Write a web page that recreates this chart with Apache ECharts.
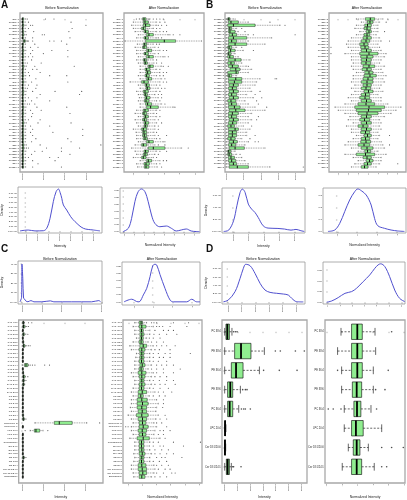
<!DOCTYPE html>
<html><head><meta charset="utf-8">
<script src="https://cdn.jsdelivr.net/npm/echarts@6/dist/echarts.min.js"></script>
<style>html,body{margin:0;padding:0;background:#fff}#c{width:407px;height:500px}</style>
</head><body><div id="c"></div>
<script>
// ---------------- categories ----------------
const catsA = ["S01-1","CMS01-1","S02-1","CMS02-1","S03-1","CMS03-1","S04-1","CMS04-1","S05-1","CMS05-1","S06-1","CMS06-1","S07-1","CMS07-1","S08-1","CMS08-1","S09-1","CMS09-1","S10-1","CMS10-1","S11-1","CMS11-1","S12-1","CMS12-1","S13-1","CMS13-1","S14-1","CMS14-1","S15-1","CMS15-1","S16-1","CMS16-1","S17-1","CMS17-1","S18-1","CMS18-1","S19-1","CMS19-1","S20-1","CMS20-1","S21-1","CMS21-1","S22-1","CMS22-1","S23-1","CMS23-1","S24-1","CMS24-1"];
const catsB = ["CMS27-2","S27-2","CMS28-2","S28-2","CMS29-2","S29-2","CMS30-2","S30-2","CMS31-2","S31-2","CMS32-2","S32-2","CMS33-2","S33-2","CMS34-2","S34-2","CMS35-2","S35-2","CMS36-2","S36-2","CMS37-2","S37-2","CMS38-2","S38-2","CMS39-2","S39-2","CMS40-2","S40-2","CMS41-2","S41-2","CMS42-2","S42-2","CMS43-2","S43-2","CMS44-2","S44-2","CMS45-2","S45-2","CMS46-2","S46-2","CMS47-2","S47-2","CMS48-2","S48-2","CMS49-2","S49-2","CMS50-2","S50-2"];
const catsC = ["TAG 48:1","TAG 48:2","TAG 50:1","TAG 50:2","TAG 50:3","TAG 52:1","TAG 52:2","TAG 52:3","TAG 52:4","TAG 54:2","TAG 54:3","TAG 54:4","TAG 54:5","TAG 56:2","TAG 56:3","TAG 56:6","DAG 34:1","DAG 36:2","DAG 36:3","PC 32:0","PC 34:1","PC 34:2","PC 36:2","PC 36:4","PC 38:4","PC 38:6","Reference-S","Reference-L","LPC 16:0","LPC 18:0","LPC 18:1","Glucosamine","SM 34:1","SM 36:1","SM 42:2","CE 18:1","CE 18:2","CE 20:4","Cer 18:1/24:0","Cer 18:1/24:1","Sphingosine"];
const catsD = ["PC 38:4","PE 38:4","PE 36:4","PE 38:6","PC 36:4","LPC 20:4","Cer 18:1/20:0","Cer 18:1/24:1"];

// ---------------- box statistics [min, q1, median, q3, max] and outliers ----------------
const boxA_before = [[0,0.02,0.06,0.15,0.35],[0,0.02,0.05,0.13,0.3],[0,0.03,0.07,0.16,0.38],[0,0.02,0.05,0.12,0.3],[0,0.02,0.06,0.15,0.35],[0,0.03,0.07,0.17,0.4],[0,0.02,0.05,0.13,0.32],[0,0.12,0.2,0.31,0.45],[0,0.02,0.06,0.14,0.33],[0,0.02,0.05,0.12,0.3],[0,0.03,0.07,0.16,0.36],[0,0.02,0.05,0.13,0.3],[0,0.02,0.06,0.15,0.34],[0,0.02,0.05,0.12,0.28],[0,0.02,0.05,0.13,0.3],[0,0.03,0.07,0.17,0.4],[0,0.02,0.06,0.14,0.33],[0,0.02,0.05,0.13,0.3],[0,0.02,0.06,0.15,0.35],[0,0.02,0.05,0.12,0.3],[0,0.03,0.07,0.16,0.37],[0,0.02,0.05,0.12,0.29],[0,0.02,0.05,0.13,0.31],[0,0.03,0.07,0.16,0.38],[0,0.02,0.06,0.15,0.35],[0,0.02,0.05,0.12,0.3],[0,0.02,0.06,0.14,0.33],[0,0.02,0.05,0.12,0.28],[0,0.03,0.07,0.16,0.37],[0,0.02,0.05,0.13,0.31],[0,0.02,0.06,0.15,0.35],[0,0.02,0.05,0.12,0.29],[0,0.02,0.05,0.13,0.31],[0,0.03,0.07,0.17,0.4],[0,0.02,0.06,0.14,0.33],[0,0.02,0.06,0.15,0.36],[0,0.02,0.05,0.13,0.31],[0,0.02,0.06,0.15,0.35],[0,0.02,0.06,0.14,0.34],[0,0.02,0.05,0.13,0.31],[0,0.03,0.07,0.17,0.4],[0,0.03,0.08,0.18,0.42],[0,0.02,0.06,0.15,0.36],[0,0.02,0.05,0.13,0.31],[0,0.02,0.06,0.14,0.33],[0,0.02,0.06,0.15,0.35],[0,0.02,0.05,0.12,0.3],[0,0.02,0.06,0.14,0.34]];
const outA_before = [[0.5,2.2,3.0],[0.6,4.6],[0.8,1.0,6.0],[0.6,4.7],[1.1,4.4],[1.9,2.1],[1.0,4.5],[0.5,0.6,1.0,2.6,3.0,3.7],[1.2,4.2],[0.8,1.5],[1.0,2.8,4.3],[0.8,2.0],[0.6,1.0,4.3],[0.9],[0.5,1.8],[1.2,4.9],[1.0,1.4],[0.6,1.7],[0.7,2.6,4.2],[1.3],[0.9,4.3],[0.6,1.4],[0.5,1.3],[1.0,3.1,5.6],[1.7,5.4],[0.6,1.4],[0.9,2.6],[0.5,0.7,1.2],[1.4,4.2],[0.8,1.8],[1.0,4.5],[0.9],[0.6,1.7],[1.5,4.6],[0.8,2.6],[1.0,5.7],[0.8,2.9],[1.0,5.7],[1.3,4.3],[0.9,4.6],[1.7,7.4],[0.6,2.3,3.7,5.4],[1.2,1.9,3.7],[0.9,4.5],[0.6,2.6,3.4],[1.0,3.1],[1.5],[1.0,3.7]];

const boxA_after = [[-1.22,-0.79,-0.61,-0.35,0.16],[-2.0,-0.70,-0.48,-0.05,1.03],[-2.22,-0.70,-0.40,0.16,1.03],[-2.0,-0.92,-0.70,-0.40,0.60],[-1.78,-0.61,-0.40,-0.05,1.03],[-1.35,-0.27,0.03,0.60,2.55],[-1.57,-0.61,-0.40,-0.05,1.03],[-3.08,-0.40,2.03,3.50,6.87],[-1.48,-0.70,-0.52,-0.27,0.60],[-1.78,-0.79,-0.61,-0.27,0.81],[-1.57,-0.27,-0.05,0.38,1.46],[-1.57,-0.61,-0.44,-0.05,0.81],[-1.35,-0.27,0.03,0.60,1.90],[-1.57,-0.70,-0.52,-0.27,0.60],[-1.35,-0.61,-0.44,-0.18,0.68],[-1.13,-0.05,0.16,0.60,1.68],[-1.13,-0.48,-0.27,0.16,1.03],[-1.13,-0.35,-0.14,0.25,1.46],[-1.35,-0.48,-0.27,0.08,1.03],[-1.13,-0.27,-0.05,0.38,1.68],[-2.43,-0.92,-0.61,-0.05,1.46],[-1.35,-0.48,-0.27,0.08,1.03],[-1.13,-0.35,-0.18,0.16,1.25],[-1.57,-0.70,-0.48,-0.05,1.03],[-1.35,-0.61,-0.44,-0.18,0.81],[-1.22,-0.48,-0.27,0.16,1.25],[-1.35,-0.57,-0.35,0.03,1.03],[-1.13,-0.40,-0.14,0.38,1.68],[-1.13,-0.27,0.25,1.25,3.19],[-1.57,-0.70,-0.48,-0.05,1.03],[-1.78,-0.79,-0.61,-0.27,0.68],[-1.35,-0.61,-0.40,-0.05,1.03],[-1.78,-0.79,-0.57,-0.27,0.81],[-1.57,-0.61,-0.40,0.00,1.03],[-1.35,-0.61,-0.44,-0.18,0.81],[-2.0,-0.92,-0.70,-0.27,0.81],[-1.65,-0.79,-0.61,-0.27,0.68],[-1.57,-0.79,-0.57,-0.27,0.81],[-1.57,-0.70,-0.48,-0.18,1.03],[-1.35,-0.27,0.03,0.60,1.90],[-1.78,-0.92,-0.70,-0.27,0.81],[-2.22,-0.05,0.60,2.11,4.28],[-1.78,-0.61,-0.40,-0.05,1.03],[-1.57,-0.70,-0.48,-0.18,0.81],[-2.0,-0.92,-0.70,-0.35,0.60],[-1.13,-0.27,-0.05,0.38,1.46],[-1.57,-0.61,-0.35,0.08,1.03],[-1.44,-0.57,-0.35,0.03,1.12]];
const outA_after = [[-1.6,0.60,1.03,1.46,1.90],[1.46,2.11],[1.25,1.68,2.33],[1.03,1.46],[1.46,1.90,2.33],[2.76,3.19,4.06],[1.25,1.68],[],[1.03,1.38],[1.25],[1.90,2.33],[1.25],[2.11,2.55],[1.03],[1.03,1.68],[1.90,2.55],[1.46],[1.90,2.33],[1.46,1.90],[2.11],[1.90,2.33],[1.46],[1.68,2.11],[1.46],[1.25,1.68],[1.68],[1.46],[2.11],[3.41],[1.46],[1.03],[1.46],[1.25],[1.68],[1.25],[1.25],[1.03],[1.25,2.33],[1.46],[2.11],[1.25,2.11],[5.14],[1.46,2.33],[1.25],[1.03],[1.90,2.33],[1.46],[1.68]];

const boxB_before = [[0,0.06,0.12,0.19,0.39],[0,0.10,0.25,0.68,1.27],[0,0.06,0.39,1.66,3.12],[0,0.10,0.18,0.29,0.58],[0,0.10,0.19,0.49,0.68],[0,0.14,0.33,0.58,1.27],[0,0.10,0.39,1.17,2.63],[0,0.10,0.29,0.58,1.27],[0,0.10,0.49,1.17,2.24],[0,0.06,0.14,0.29,0.58],[0,0.10,0.23,0.49,0.97],[0,0.06,0.12,0.25,0.49],[0,0.06,0.18,0.39,0.68],[0,0.10,0.49,0.84,1.36],[0,0.06,0.25,0.45,0.88],[0,0.10,0.33,0.68,1.17],[0,0.19,0.53,0.78,1.46],[0,0.06,0.55,0.68,1.27],[0,0.06,0.14,0.29,0.58],[0,0.10,0.53,0.88,1.95],[0,0.10,0.45,0.88,1.75],[0,0.14,0.39,0.68,1.66],[0,0.10,0.33,0.58,1.36],[0,0.14,0.39,0.68,1.46],[0,0.10,0.29,0.58,1.17],[0,0.14,0.39,0.68,1.56],[0,0.06,0.25,0.53,1.07],[0,0.10,0.29,0.58,1.27],[0,0.10,0.45,0.78,1.66],[0,0.14,0.53,1.07,2.24],[0,0.10,0.33,0.68,1.46],[0,0.10,0.29,0.58,1.27],[0,0.14,0.39,0.68,1.46],[0,0.10,0.35,0.58,1.27],[0,0.06,0.25,0.45,0.97],[0,0.10,0.49,0.68,1.36],[0,0.10,0.33,0.58,1.17],[0,0.10,0.33,0.58,1.17],[0,0.06,0.25,0.49,0.88],[0,0.14,0.39,0.62,1.27],[0,0.10,0.29,0.53,1.07],[0,0.14,0.49,1.03,2.24],[0,0.06,0.12,0.25,0.49],[0,0.06,0.14,0.29,0.58],[0,0.10,0.25,0.45,0.88],[0,0.10,0.29,0.53,1.07],[0,0.14,0.39,0.58,1.27],[0,0.14,0.62,1.27,2.53]];
const outB_before = [[0.49],[2.53],[3.41],[0.88],[1.07],[1.56,4.0],[],[],[],[0.88],[1.56],[],[],[],[],[1.27],[],[],[],[2.83,2.92],[],[],[],[1.95],[1.66],[2.05],[1.75],[1.85],[2.34],[],[],[1.85],[1.75],[],[1.46],[],[],[1.66],[1.36],[1.66,1.85],[],[],[],[0.78],[],[],[],[4.48]];

const boxB_after = [[-1.17,-0.27,0.23,0.67,1.5],[-0.67,-0.07,0.2,0.5,1.17],[-1.17,-0.33,-0.05,0.33,1.0],[-1.33,-0.4,-0.1,0.27,1.0],[-0.83,-0.17,0.1,0.33,1.0],[-1.17,-0.4,-0.1,0.17,0.83],[-1.67,-0.5,-0.1,0.33,1.17],[-2.0,-0.67,-0.2,0.17,1.33],[-2.17,-0.83,-0.4,0,1.0],[-2.0,-0.73,-0.3,0.07,1.17],[-1.67,-0.67,-0.15,0.33,1.33],[-2.33,-0.83,0.1,1.0,1.83],[-1.67,-0.73,-0.1,0.5,1.67],[-1.67,-0.67,-0.15,0.33,1.33],[-1.5,-0.67,-0.2,0.27,1.17],[-1.67,-0.5,0.1,0.67,1.67],[-1.5,-0.6,-0.1,0.33,1.33],[-1.17,-0.33,0.1,0.5,1.5],[-1.5,-0.4,0.2,0.83,1.83],[-1.5,-0.5,0.0,0.5,1.5],[-1.67,-0.67,-0.1,0.5,1.67],[-1.33,-0.5,-0.1,0.33,1.33],[-1.67,-0.67,-0.2,0.27,1.17],[-1.33,-0.4,0.05,0.5,1.5],[-1.67,-0.67,-0.25,0.17,1.0],[-2.0,-0.83,-0.3,0.17,1.33],[-1.67,-0.67,-0.15,0.33,1.33],[-2.33,-1.0,-0.2,0.67,2.0],[-3.33,-1.33,0.1,1.67,3.33],[-3.0,-1.17,0.05,1.33,2.83],[-2.33,-1.0,-0.1,1.0,2.33],[-1.83,-0.67,-0.15,0.33,1.67],[-2.0,-0.83,-0.35,0.17,1.17],[-1.5,-0.67,-0.15,0.33,1.33],[-2.17,-1.0,-0.5,0,1.17],[-1.67,-0.67,-0.15,0.33,1.33],[-1.67,-0.73,-0.25,0.17,1.0],[-1.17,-0.4,-0.05,0.33,1.17],[-1.5,-0.67,-0.25,0.17,1.0],[-2.0,-0.73,-0.2,0.27,1.33],[-2.33,-1.0,-0.4,0.17,1.5],[-1.67,-0.67,-0.1,0.5,1.67],[-1.0,-0.33,-0.05,0.27,1.0],[-2.33,-1.17,-0.25,0.67,1.83],[-1.5,-0.5,-0.1,0.33,1.33],[-1.0,-0.17,0.15,0.5,1.33],[-1.33,-0.4,-0.05,0.33,1.17],[-1.67,-0.67,-0.35,0,0.83]];
const outB_after = [[2.0],[1.83],[],[],[1.67],[],[],[2.17],[],[-3.73],[],[-3.73],[],[],[],[],[],[],[],[],[],[],[],[],[],[],[],[],[],[],[],[],[],[],[],[],[],[2.17],[],[],[2.17],[],[],[],[],[],[3.0],[]];

const boxC_before = [[0,0.01,0.03,0.06,0.09],[0,0.01,0.04,0.1,0.13],[0,0.005,0.01,0.02,0.04],[0,0.01,0.03,0.08,0.15],[0,0.005,0.01,0.02,0.03],[0,0.01,0.02,0.04,0.06],[0,0.02,0.05,0.1,0.13],[0,0.005,0.01,0.02,0.04],[0,0.005,0.01,0.02,0.03],[0,0.005,0.01,0.02,0.03],[0,0.005,0.01,0.02,0.04],[0,0.09,0.16,0.25,0.28],[0,0.005,0.01,0.02,0.03],[0,0.01,0.02,0.04,0.05],[0,0.01,0.04,0.1,0.13],[0,0.01,0.03,0.07,0.1],[0,0.01,0.03,0.07,0.1],[0,0.005,0.01,0.02,0.03],[0,0.005,0.01,0.02,0.03],[0,0.005,0.01,0.02,0.03],[0,0.005,0.01,0.02,0.04],[0,0.005,0.01,0.02,0.03],[0,0.005,0.01,0.02,0.03],[0,0.005,0.01,0.02,0.04],[0,0.005,0.015,0.03,0.05],[0,0.01,0.03,0.07,0.1],[0.59,1.52,1.76,2.38,3.08],[0,0.005,0.01,0.02,0.04],[0.36,0.56,0.64,0.82,0.98],[0,0.005,0.01,0.02,0.03],[0,0.005,0.01,0.02,0.03],[0,0.005,0.01,0.02,0.04],[0,0.005,0.01,0.02,0.03],[0,0.005,0.01,0.02,0.03],[0,0.005,0.01,0.02,0.03],[0,0.01,0.03,0.07,0.1],[0,0.005,0.01,0.02,0.03],[0,0.005,0.01,0.02,0.04],[0,0.005,0.01,0.02,0.03],[0,0.005,0.01,0.02,0.03],[0,0.005,0.01,0.02,0.03]];
const outC_before = [[0.28,0.44],[0.2,0.28],[],[0.25],[],[],[0.2,0.28,0.36],[],[],[],[],[0.36,0.47,0.59,1.06,1.29],[],[],[0.25],[0.16],[],[],[],[],[],[],[],[],[],[0.16],[3.7],[],[0.12,1.21],[],[],[],[],[],[],[0.16],[],[],[],[],[]];

const boxC_after = [[-0.55,-0.24,-0.1,0,0.29],[-0.67,-0.24,-0.05,0.24,0.76],[-0.55,-0.19,-0.07,0.05,0.52],[-0.55,-0.19,-0.05,0.1,0.52],[-0.43,-0.19,-0.07,0.05,0.29],[-0.67,-0.24,-0.1,0.05,0.4],[-0.9,-0.19,0.05,0.29,0.76],[-0.79,-0.24,-0.05,0.17,0.64],[-0.43,-0.19,-0.05,0.1,0.52],[-0.48,-0.19,-0.05,0.1,0.52],[-0.55,-0.24,-0.07,0.1,0.52],[-0.55,-0.19,-0.02,0.17,0.64],[-0.55,-0.24,-0.1,0.05,0.4],[-0.79,-0.31,-0.05,0.24,0.76],[-0.67,-0.24,-0.05,0.17,0.64],[-0.55,-0.19,-0.05,0.1,0.52],[-0.55,-0.24,-0.05,0.17,0.64],[-0.67,-0.24,-0.07,0.1,0.52],[-0.79,-0.31,-0.02,0.29,0.88],[-0.67,-0.31,-0.12,0.05,0.48],[-0.79,-0.38,-0.05,0.33,1.0],[-0.79,-0.38,0.0,0.4,1.12],[-0.86,-0.38,-0.05,0.29,1.0],[-0.79,-0.31,-0.02,0.29,0.95],[-1.02,-0.43,-0.05,0.4,1.12],[-0.79,-0.31,0.0,0.29,0.95],[-0.67,-0.24,0.0,0.24,0.81],[-0.79,-0.24,0.05,0.4,1.0],[-0.79,-0.31,-0.02,0.29,0.88],[-0.67,-0.24,0.0,0.24,0.81],[-0.9,-0.38,0.05,0.48,1.24],[-0.55,-0.24,-0.07,0.1,0.52],[-0.55,-0.24,-0.07,0.1,0.48],[-0.55,-0.24,-0.05,0.1,0.52],[-0.62,-0.24,-0.02,0.17,0.64],[-0.55,-0.19,-0.05,0.1,0.52],[-0.62,-0.24,-0.07,0.1,0.52],[-0.79,-0.31,-0.05,0.24,0.81],[-0.79,-0.31,-0.02,0.29,0.88],[-0.67,-0.24,0.02,0.29,0.81],[-0.62,-0.24,-0.05,0.17,0.64]];
const outC_after = [[0.64,0.81,1.0,2.19,3.26],[1.0,1.19,1.43,1.95,3.14],[0.88,1.48,1.83,2.19],[0.81,1.19,1.71,2.43],[0.48,0.76,1.24],[0.64,1.0,1.48],[1.0,1.36,1.71,2.31],[0.88,1.19,1.95],[0.76,1.12,1.6,1.95,3.38],[0.76,1.19,1.48,1.95],[0.76,1.12,1.71],[1.0,1.36,1.71,2.19],[0.64,1.0,1.48,2.67],[1.0,1.48,2.19],[0.88,1.24,1.71],[0.76,1.19,1.71,2.19],[0.88,1.24,1.6,2.31],[0.76,1.24,1.83],[1.12,1.48,2.07],[0.76,1.19,1.6],[1.48],[1.48],[1.43],[],[1.6],[1.24,1.71],[1.0,1.36],[-1.19,-1.02,1.71],[1.24,1.48,1.95],[1.12,1.48],[1.6],[0.76,1.12,2.19,4.1],[0.76,1.24,1.48,2.9],[0.88,1.36,1.83],[0.88,1.24,1.71,2.19],[1.0,1.36,1.6,2.79],[0.76,1.19,1.71],[1.0,1.36,1.83],[1.12,1.6,1.95],[1.0,1.48,2.07,2.31],[0.88,1.24,1.71]];

const boxD_before = [[0,0.1,0.21,0.37,0.57],[0,0.78,1.28,2.06,3.11],[0,0.52,0.89,1.44,2.72],[0,0.23,0.44,0.63,1.23],[0,0.23,0.39,0.63,1.1],[0,0.01,0.03,0.06,0.1],[0,0.01,0.02,0.05,0.08],[0,0.13,0.23,0.37,0.52]];
const outD_before = [[0.7,0.84,0.97],[3.97,4.36,5.54,6.24],[3.05,4.28,5.67],[1.41,1.62,1.75],[1.31,1.49,1.62,2.01],[],[],[0.63,0.7,1.28]];
const boxD_after = [[-1.07,-0.39,-0.02,0.3,1.12],[-1.29,-0.39,-0.02,0.3,1.16],[-1.03,-0.39,-0.02,0.3,1.01],[-1.03,-0.34,-0.06,0.26,1.01],[-0.86,-0.24,-0.04,0.21,0.86],[-0.86,-0.39,-0.11,0.36,1.55],[-0.6,-0.28,-0.06,0.15,0.69],[-0.99,-0.39,-0.06,0.26,1.07]];
const outD_after = [[2.19],[],[-1.29,1.97],[1.16,1.76],[-1.89,-1.57,-1.07,1.22],[],[1.55,2.19,2.94],[1.55,1.87]];

// ---------------- density curves [x, density] ----------------
const densA_before = [[-0.54,0.02],[0.2,0.2],[0.8,0.02],[1.55,0.06],[1.85,0.57],[2.15,2.67],[2.44,6.17],[2.69,8.27],[2.9,8.84],[3.05,8.1],[3.2,6.88],[3.34,5.47],[3.64,4.42],[4.0,3.0],[4.39,1.96],[5.13,0.57],[6.03,0.21],[6.62,0.02]];
const densA_after = [[-0.07,0.02],[0.43,0.49],[0.76,1.93],[1.09,4.35],[1.42,5.8],[1.75,6.19],[2.09,5.8],[2.42,4.35],[2.75,2.42],[3.08,1.21],[3.58,0.72],[4.24,0.82],[4.74,0.49],[5.23,0.1],[5.73,0.25],[6.23,0.39],[6.72,0.1],[7.22,0.02],[7.55,0.01]];
const densB_before = [[-0.65,0.02],[-0.32,0.13],[0,0.91],[0.22,2.16],[0.43,3.27],[0.58,3.55],[0.76,3.27],[0.97,2.3],[1.19,1.88],[1.41,1.6],[1.62,1.19],[1.95,0.49],[2.27,0.3],[2.92,0.27],[3.35,0.22],[3.78,0.13],[4.11,0.19],[4.43,0.08],[4.65,0.02]];
const densB_after = [[-0.47,0.02],[-0.13,0.14],[0.12,0.69],[0.37,1.67],[0.62,2.64],[0.87,3.33],[1.03,3.56],[1.2,3.42],[1.45,3.06],[1.7,2.22],[1.87,1.11],[2.03,0.5],[2.37,0.28],[2.7,0.14],[3.03,0.06],[3.37,0.02]];
const densC_before = [[-0.1,0.02],[-0.02,0.5],[0.0,4.0],[0.04,2.5],[0.08,0.4],[0.13,0.3],[0.2,0.1],[0.3,0.03],[0.45,0.15],[0.6,0.02],[1.0,0.02],[1.43,0.12],[1.6,0.02],[2.5,0.02],[3.5,0.02],[3.86,0.15],[3.95,0.02]];
const densC_after = [[-3.02,0.001],[-2.23,0.019],[-1.58,0.001],[-1.38,0.004],[-1.03,0.049],[-0.68,0.095],[-0.34,0.176],[-0.06,0.252],[0.15,0.262],[0.35,0.257],[0.69,0.19],[1.2,0.095],[1.72,0.014],[2.06,0.001],[3.44,0.001],[3.96,0.019],[4.47,0.001],[4.81,0.001]];
const densD_before = [[-0.34,0.02],[0.02,0.24],[0.51,1.24],[0.88,2.85],[1.12,4.06],[1.29,4.54],[1.61,4.37],[1.97,3.45],[2.34,2.25],[2.7,1.44],[3.07,1.16],[3.55,1.05],[4.04,0.96],[4.4,0.84],[4.65,0.44],[5.01,0.04],[5.5,0.01]];
const densD_after = [[-0.08,0.01],[0.32,0.12],[0.86,0.44],[1.41,0.84],[1.95,1.0],[2.35,1.31],[2.89,1.93],[3.43,2.56],[3.84,3.18],[4.11,3.5],[4.32,3.6],[4.65,3.35],[5.05,2.4],[5.46,1.15],[5.86,0.37],[6.27,0.07]];

// ---------------- tick values and labels ----------------
const ticksA_bx1 = [0,2,4,6], labA_bx1 = ["0e+00","2e+07","4e+07","6e+07"];
const ticksA_bx2 = [-2,0,2,4,6], labA_bx2 = ["-2","0","2","4","6"];
const ticksA_dx1 = [0,1,2,3,4,5,6], labA_dx1 = ["0e+00","1e+07","2e+07","3e+07","4e+07","5e+07","6e+07"];
const ticksA_dy1 = [0,1,2,3,4,5,6,7,8], labA_dy1 = ["0.0e+00","1.0e-08","2.0e-08","3.0e-08","4.0e-08","5.0e-08","6.0e-08","7.0e-08","8.0e-08"];
const ticksA_dx2 = [0,1,2,3,4,5,6,7], labA_dx2 = ["-2","-1","0","1","2","3","4","5"];
const ticksA_dy2 = [0,1,2,3,4,5,6], labA_dy2 = ["0.00","0.05","0.10","0.15","0.20","0.25","0.30"];
const ticksB_bx1 = [0,1,2,3,4], labB_bx1 = ["0e+00","1e+07","2e+07","3e+07","4e+07"];
const ticksB_bx2 = [-3,-2,-1,0,1,2,3], labB_bx2 = ["-3","-2","-1","0","1","2","3"];
const ticksB_dx1 = [0,1,2,3,4], labB_dx1 = ["0e+00","1e+07","2e+07","3e+07","4e+07"];
const ticksB_dy1 = [0,1,2,3], labB_dy1 = ["0.0e+00","2.0e-08","4.0e-08","6.0e-08"];
const ticksB_dx2 = [0,1,2,3], labB_dx2 = ["-2","0","2","4"];
const ticksB_dy2 = [0,1,2,3], labB_dy2 = ["0.0","0.1","0.2","0.3"];
const ticksC_dx1 = [0,1,2,3,4], labC_dx1 = ["0e+00","1e+08","2e+08","3e+08","4e+08"];
const ticksC_dy1 = [0,1,2,3,4], labC_dy1 = ["0e+00","1e-08","2e-08","3e-08","4e-08"];
const ticksC_dx2 = [-2,0,2,4], labC_dx2 = ["-2","0","2","4"];
const ticksC_dy2 = [0,0.05,0.1,0.15,0.2,0.25], labC_dy2 = ["0.00","0.05","0.10","0.15","0.20","0.25"];
const ticksC_bx1 = [0,1,2,3], labC_bx1 = ["0e+00","1e+08","2e+08","3e+08"];
const ticksC_bx2 = [-1,0,1,2,3,4], labC_bx2 = ["-1","0","1","2","3","4"];
const ticksD_dx1 = [0,1,2,3,4,5], labD_dx1 = ["0e+00","1e+07","2e+07","3e+07","4e+07","5e+07"];
const ticksD_dy1 = [0,1,2,3,4], labD_dy1 = ["0.0e+00","2.0e-08","4.0e-08","6.0e-08","8.0e-08"];
const ticksD_dx2 = [0,1,2,3,4,5,6], labD_dx2 = ["0","1","2","3","4","5","6"];
const ticksD_dy2 = [0,1,2,3], labD_dy2 = ["0.00","0.05","0.10","0.15"];
const ticksD_bx1 = [0,1,2,3,4,5,6], labD_bx1 = ["0e+00","1e+07","2e+07","3e+07","4e+07","5e+07","6e+07"];
const ticksD_bx2 = [-2,-1,0,1,2,3], labD_bx2 = ["-2","-1","0","1","2","3"];

// ---------------- builder ----------------
const FONT = 'Liberation Sans';
const grids = [], xAxes = [], yAxes = [], series = [];

function fmtFor(ticks, labels) {
  return v => { const i = ticks.findIndex(t => Math.abs(t - v) < 1e-9); return i < 0 ? '' : labels[i]; };
}
function valAxis(k, min, max, ticks, labels, isX, extra) {
  const ax = {
    type: 'value', gridIndex: k, min: min, max: max,
    axisLine: { show: false }, splitLine: { show: false },
    axisTick: { show: true, length: 1.4, customValues: ticks, lineStyle: { color: '#444', width: 0.4 } },
    axisLabel: { show: true, customValues: ticks, formatter: fmtFor(ticks, labels), fontSize: 2.4,
      color: '#222', margin: 1.2, fontFamily: FONT, rotate: isX ? 90 : 0 }
  };
  return Object.assign(ax, extra || {});
}
function nameOpts(name, gap, rotate) {
  return { name: name, nameLocation: 'middle', nameGap: gap, nameRotate: rotate,
    nameTextStyle: { fontSize: 3.4, color: '#222', fontFamily: FONT } };
}

function renderBox(params, api) {
  const r = api.value(0);
  const p = [1, 2, 3, 4, 5].map(d => api.coord([api.value(d), r]));
  const y = p[0][1];
  const band = Math.abs(api.size([0, 1])[1]);
  const hh = band * 0.4, cap = band * 0.2;
  const big = band > 10;
  const lw = big ? 0.6 : 0.4;
  const dash = big ? [2, 1.5] : [0.9, 0.8];
  return { type: 'group', children: [
    { type: 'line', shape: { x1: p[0][0], y1: y, x2: p[1][0], y2: y }, style: { stroke: '#000', lineWidth: lw, lineDash: dash } },
    { type: 'line', shape: { x1: p[3][0], y1: y, x2: p[4][0], y2: y }, style: { stroke: '#000', lineWidth: lw, lineDash: dash } },
    { type: 'line', shape: { x1: p[0][0], y1: y - cap, x2: p[0][0], y2: y + cap }, style: { stroke: '#000', lineWidth: lw } },
    { type: 'line', shape: { x1: p[4][0], y1: y - cap, x2: p[4][0], y2: y + cap }, style: { stroke: '#000', lineWidth: lw } },
    { type: 'rect', shape: { x: p[1][0], y: y - hh, width: p[3][0] - p[1][0], height: 2 * hh }, style: { fill: '#90ee90', stroke: '#000', lineWidth: lw } },
    { type: 'line', shape: { x1: p[2][0], y1: y - hh, x2: p[2][0], y2: y + hh }, style: { stroke: '#000', lineWidth: big ? 1.8 : 0.9 } }
  ] };
}

function boxPanel(rect, stats, outs, cats, xr, xt, xl, yr, xname, nameGap, outSize, labSize) {
  const k = grids.length;
  grids.push({ left: rect[0], top: rect[1], width: rect[2], height: rect[3], show: true, borderColor: '#a8a8a8', borderWidth: 1.3, backgroundColor: '#fff' });
  xAxes.push(valAxis(k, xr[0], xr[1], xt, xl, true, xname ? Object.assign({ position: 'bottom' }, nameOpts(xname, nameGap, 0)) : { position: 'bottom' }));
  const rows = cats.map((c, i) => i);
  const yax = valAxis(k, yr[0], yr[1], rows, cats, false, { inverse: true });
  yax.axisLabel.fontSize = labSize;
  yAxes.push(yax);
  series.push({ type: 'custom', xAxisIndex: k, yAxisIndex: k, renderItem: renderBox, silent: true,
    data: stats.map((s, i) => [i].concat(s)), encode: { x: [1, 2, 3, 4, 5], y: 0 }, z: 3 });
  series.push({ type: 'scatter', xAxisIndex: k, yAxisIndex: k, silent: true, symbol: 'circle', symbolSize: outSize,
    data: outs.flatMap((a, i) => a.map(v => [v, i])),
    itemStyle: { color: '#222' }, z: 2 });
}

function densPanel(rect, pts, xr, xt, xl, yr, yt, yl, xname, yname) {
  const k = grids.length;
  grids.push({ left: rect[0], top: rect[1], width: rect[2], height: rect[3], show: true, borderColor: '#9a9a9a', borderWidth: 0.8, backgroundColor: '#fff' });
  xAxes.push(valAxis(k, xr[0], xr[1], xt, xl, true, xname ? Object.assign({ position: 'bottom' }, nameOpts(xname, 11, 0)) : { position: 'bottom' }));
  yAxes.push(valAxis(k, yr[0], yr[1], yt, yl, false, yname ? nameOpts(yname, 14, 90) : {}));
  series.push({ type: 'line', xAxisIndex: k, yAxisIndex: k, data: pts, smooth: 0.35, symbol: 'none', silent: true,
    lineStyle: { color: '#5050cf', width: 1 }, clip: false, z: 3 });
}

// Panel A
boxPanel([20, 13, 83, 159], boxA_before, outA_before, catsA, [-0.19, 7.6], ticksA_bx1, labA_bx1, [-1.9, 48.6], null, 0, 1.1, 2.4);
boxPanel([124, 13, 80, 159], boxA_after, outA_after, catsA, [-3.21, 7.19], ticksA_bx2, labA_bx2, [-1.9, 48.6], null, 0, 1.1, 2.4);
densPanel([18, 187, 84, 46], densA_before, [-0.72, 6.8], ticksA_dx1, labA_dx1, [-0.42, 9.26], ticksA_dy1, labA_dy1, 'Intensity', 'Density');
densPanel([120, 188, 80, 45], densA_after, [-0.4, 7.6], ticksA_dx2, labA_dx2, [-0.19, 6.33], ticksA_dy2, labA_dy2, 'Normalized Intensity', null);
// Panel B
boxPanel([225, 13, 80, 159], boxB_before, outB_before, catsB, [-0.1, 4.58], ticksB_bx1, labB_bx1, [-1.9, 48.6], null, 0, 1.1, 2.4);
boxPanel([329, 13, 77, 159], boxB_after, outB_after, catsB, [-3.93, 3.83], ticksB_bx2, labB_bx2, [-1.9, 48.6], null, 0, 1.1, 2.4);
densPanel([222, 188, 83, 45], densB_before, [-0.76, 4.7], ticksB_dx1, labB_dx1, [-0.11, 3.64], ticksB_dy1, labB_dy1, 'Intensity', 'Density');
densPanel([323, 188, 83, 45], densB_after, [-0.72, 3.45], ticksB_dx2, labB_dx2, [-0.11, 3.64], ticksB_dy2, labB_dy2, 'Normalized Intensity', null);
// Panel C
densPanel([17, 261, 85, 43], densC_before, [-0.2, 4.02], ticksC_dx1, labC_dx1, [-0.21, 4.32], ticksC_dy1, labC_dy1, null, 'Density');
densPanel([122, 262, 78, 43], densC_after, [-3.23, 4.81], ticksC_dx2, labC_dx2, [-0.021, 0.278], ticksC_dy2, labC_dy2, null, null);
boxPanel([17, 320, 86, 163], boxC_before, outC_before, catsC, [-0.19, 3.86], ticksC_bx1, labC_bx1, [-0.7, 41.6], 'Intensity', 13, 1.1, 2.4);
boxPanel([123, 320, 79, 163], boxC_after, outC_after, catsC, [-1.38, 4.21], ticksC_bx2, labC_bx2, [-0.7, 41.6], 'Normalized Intensity', 13, 1.1, 2.4);
// Panel D
densPanel([222, 262, 83, 42], densD_before, [-0.44, 5.62], ticksD_dx1, labD_dx1, [-0.24, 4.82], ticksD_dy1, labD_dy1, null, 'Density');
densPanel([323, 262, 82, 42], densD_after, [-0.38, 6.3], ticksD_dx2, labD_dx2, [-0.16, 3.77], ticksD_dy2, labD_dy2, null, null);
boxPanel([222, 320, 85, 163], boxD_before, outD_before, catsD, [-0.21, 6.45], ticksD_bx1, labD_bx1, [-0.61, 7.84], 'Intensity', 13, 1.6, 2.6);
boxPanel([325, 320, 80, 163], boxD_after, outD_after, catsD, [-2.1, 3.05], ticksD_bx2, labD_bx2, [-0.61, 7.84], 'Normalized Intensity', 13, 1.6, 2.6);

// ---------------- text ----------------
function txt(x, y, s, size, bold) {
  return { type: 'text', x: x, y: y, silent: true, style: { text: s, fontSize: size, fontWeight: bold ? 'bold' : 'normal',
    fontFamily: FONT, fill: '#111', align: bold ? 'left' : 'center', verticalAlign: 'middle' } };
}
const graphics = [
  txt(1, 5, 'A', 10, true), txt(206, 5, 'B', 10, true), txt(1, 249, 'C', 10, true), txt(206, 249, 'D', 10, true),
  txt(62, 7.5, 'Before Normalization', 3.6), txt(164, 7.5, 'After Normalization', 3.6),
  txt(265, 7.5, 'Before Normalization', 3.6), txt(367, 7.5, 'After Normalization', 3.6),
  txt(60, 258.5, 'Before Normalization', 3.6), txt(162, 258.5, 'After Normalization', 3.6),
  txt(263, 258.5, 'Before Normalization', 3.6), txt(365, 258.5, 'After Normalization', 3.6)
];

const chart = echarts.init(document.getElementById('c'), null, { renderer: 'canvas' });
chart.setOption({
  animation: false,
  backgroundColor: '#fff',
  textStyle: { fontFamily: FONT },
  grid: grids, xAxis: xAxes, yAxis: yAxes, series: series,
  graphic: graphics
});
</script></body></html>
